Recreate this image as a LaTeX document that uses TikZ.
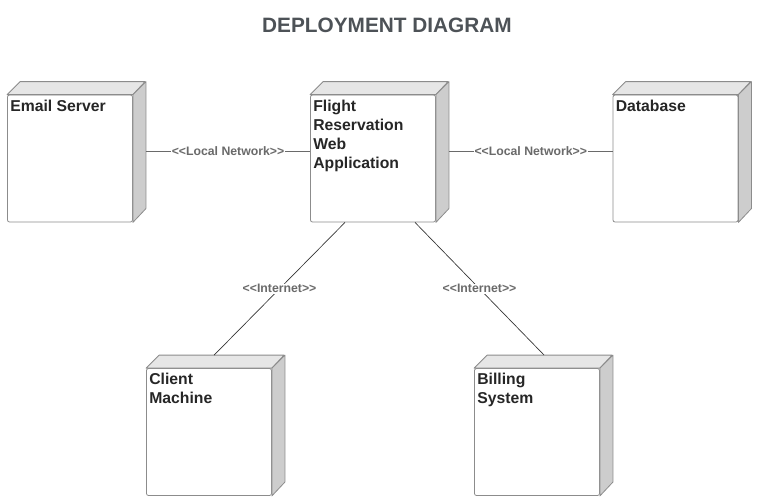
\documentclass[tikz,border=0pt]{standalone}
\usepackage{fontspec}
\setmainfont{Liberation Sans}
\usetikzlibrary{calc}
\definecolor{edgegray}{HTML}{8C8C8C}
\definecolor{topgray}{HTML}{E6E6E6}
\definecolor{sidegray}{HTML}{CDCDCD}
\definecolor{titlegray}{HTML}{4D5257}
\definecolor{labgray}{HTML}{6A6A6A}
\newcommand\lt{<{}}
\newcommand\gt{>{}}
\begin{document}
\begin{tikzpicture}[x=0.75pt,y=-0.75pt,
  front/.style={draw=edgegray, fill=white, line width=0.6pt, rectangle, rounded corners=1.5pt,
    minimum width=93.75pt, minimum height=95.25pt, inner sep=0pt},
  face/.style={draw=edgegray, line width=0.6pt, line join=round},
  ntext/.style={anchor=north west, align=left, font=\bfseries\fontsize{11.8}{14.3}\selectfont, text=black!85, inner sep=0pt},
  link/.style={draw=labgray, line width=0.6pt},
  inet/.style={draw=black!80, line width=0.5pt},
  lab/.style={fill=white, inner sep=0.6pt, text=labgray, font=\bfseries\fontsize{9.2}{11}\selectfont}]
\useasboundingbox (0,0) rectangle (764,501);
\node[font=\bfseries\fontsize{15.6}{18}\selectfont, text=titlegray] (title) at (387,25) {DEPLOYMENT DIAGRAM};
% node boxes
\newcommand\depnode[3]{%
  \node[front] (#1) at #2 {};
  \filldraw[face, fill=topgray] (#1.north west) -- ++(13,-13) -- ++(125,0) -- (#1.north east) -- cycle;
  \filldraw[face, fill=sidegray] (#1.north east) -- ++(13,-13) -- ++(0,127) -- (#1.south east) -- cycle;
  \node[ntext] (#1text) at ($(#1.north west)+(3,5)$) {#3};
}
\depnode{email}{(70,158.5)}{Email Server}
\depnode{flight}{(373,158.5)}{Flight\\Reservation\\Web\\Application}
\depnode{db}{(675.5,158.5)}{Database}
\depnode{client}{(209,432)}{Client\\Machine}
\depnode{billing}{(537,432)}{Billing\\System}
% connectors
\coordinate (e1) at ($(email.east)+(13,-7)$);
\coordinate (f1) at ($(flight.east)+(13,-7)$);
\draw[link] (e1) -- node[lab] {\lt\lt Local Network\gt\gt} (e1 -| flight.west);
\draw[link] (f1) -- node[lab] {\lt\lt Local Network\gt\gt} (f1 -| db.west);
\coordinate (fs1) at ($(flight.south)+(-28,0)$);
\coordinate (fs2) at ($(flight.south)+(42,0)$);
\coordinate (ct) at ($(client.north west)+(68,-13)$);
\coordinate (bt) at ($(billing.north west)+(70,-13)$);
\draw[inet] (fs1) -- node[lab] {\lt\lt Internet\gt\gt} (ct);
\draw[inet] (fs2) -- node[lab] {\lt\lt Internet\gt\gt} (bt);
\end{tikzpicture}
\end{document}
